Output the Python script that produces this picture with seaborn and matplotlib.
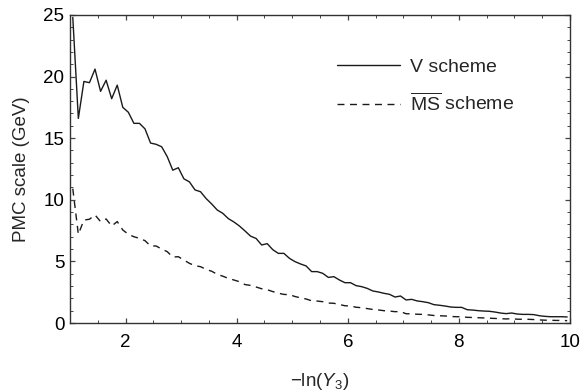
import numpy as np
import pandas as pd
import matplotlib
matplotlib.use("Agg")
import matplotlib.pyplot as plt
import seaborn as sns

# ── data ──────────────────────────────────────────────────────────
x_vals = np.round(np.arange(1.05, 10.0, 0.1), 2)

v_scheme = [
    24.8, 16.6, 19.6, 19.5, 20.6, 18.8, 19.7, 18.2, 19.3, 17.5,
    17.1, 16.2, 16.2, 15.75, 14.6, 14.5, 14.3, 13.5, 12.4, 12.6,
    11.7, 11.45, 10.8, 10.65, 10.1, 9.66, 9.17, 8.9, 8.47, 8.2,
    7.87, 7.47, 7.05, 6.86, 6.33, 6.44, 5.95, 5.65, 5.65, 5.25,
    4.98, 4.79, 4.63, 4.17, 4.17, 4.03, 3.7, 3.76, 3.49, 3.27,
    3.27, 3.03, 2.95, 2.81, 2.6, 2.52, 2.41, 2.33, 2.11, 2.19,
    1.87, 1.92, 1.79, 1.73, 1.65, 1.49, 1.44, 1.38, 1.30, 1.27,
    1.27, 1.08, 1.05, 1.00, 0.97, 0.95, 0.89, 0.81, 0.76, 0.81,
    0.73, 0.70, 0.70, 0.68, 0.59, 0.54, 0.51, 0.51, 0.51, 0.49,
]

ms_scheme = [
    10.9, 7.2, 8.35, 8.42, 8.77, 8.23, 8.44, 7.87, 8.23, 7.55,
    7.2, 7.0, 6.87, 6.68, 6.25, 6.25, 6.0, 5.79, 5.35, 5.38,
    5.11, 4.84, 4.65, 4.57, 4.35, 4.2, 3.95, 3.8, 3.62, 3.49,
    3.35, 3.12, 3.05, 2.92, 2.78, 2.7, 2.55, 2.42, 2.32, 2.3,
    2.15, 2.04, 1.95, 1.8, 1.78, 1.73, 1.62, 1.6, 1.5, 1.4,
    1.38, 1.28, 1.24, 1.17, 1.1, 1.06, 1.0, 0.97, 0.92, 0.93,
    0.75, 0.75, 0.71, 0.70, 0.66, 0.61, 0.59, 0.57, 0.53, 0.51,
    0.51, 0.46, 0.45, 0.43, 0.41, 0.39, 0.37, 0.35, 0.33, 0.35,
    0.31, 0.30, 0.30, 0.28, 0.25, 0.23, 0.22, 0.21, 0.21, 0.19,
]

labels = ["V scheme", r"$\overline{\mathrm{MS}}$ scheme"]

df = pd.DataFrame({
    "x": np.concatenate([x_vals, x_vals]),
    "y": v_scheme + ms_scheme,
    "scheme": [labels[0]] * len(x_vals) + [labels[1]] * len(x_vals),
})

# ── style ─────────────────────────────────────────────────────────
sns.set_style("ticks")
plt.rcParams["font.family"] = ["Liberation Sans", "DejaVu Sans"]
plt.rcParams["mathtext.fontset"] = "custom"
plt.rcParams["mathtext.rm"] = "Liberation Sans"
plt.rcParams["mathtext.it"] = "Liberation Sans:italic"

FS = 13.5

fig = plt.figure(figsize=(5.81, 3.92), dpi=100)
ax = fig.add_axes([0.1205, 0.176, 0.8605, 0.786])

sns.lineplot(
    data=df, x="x", y="y", style="scheme",
    dashes={labels[0]: "", labels[1]: (5, 4)},
    color="#1a1a1a", linewidth=1.0, ax=ax,
)

ax.set_xlim(1, 10)
ax.set_ylim(0, 25)
ax.set_xticks([2, 4, 6, 8, 10])
ax.set_xticks(np.arange(1, 10.01, 0.5), minor=True)
ax.set_yticks([0, 5, 10, 15, 20, 25])
ax.set_yticks(np.arange(0, 25.1, 1), minor=True)
ax.tick_params(which="both", direction="in", top=True, right=True,
               labelsize=FS, colors="#444444", labelcolor="black")
ax.tick_params(which="major", length=3.5, width=0.9)
ax.tick_params(which="minor", length=2.3, width=0.7)
ax.tick_params(axis="x", which="major", pad=8)
ax.tick_params(axis="y", which="major", pad=4)
for sp in ax.spines.values():
    sp.set_color("#333333")
    sp.set_linewidth(1.0)

ax.set_xlabel(r"$-\mathrm{ln}(Y_3)$", fontsize=FS, labelpad=14)
ax.set_ylabel("PMC scale (GeV)", fontsize=FS, labelpad=10)

leg = ax.legend(loc="upper left", bbox_to_anchor=(0.518, 0.885), frameon=False,
                fontsize=14, handlelength=3.25, handletextpad=0.5,
                labelspacing=0.85, borderaxespad=0, title=None)

fig.savefig("out.png", dpi=100)
